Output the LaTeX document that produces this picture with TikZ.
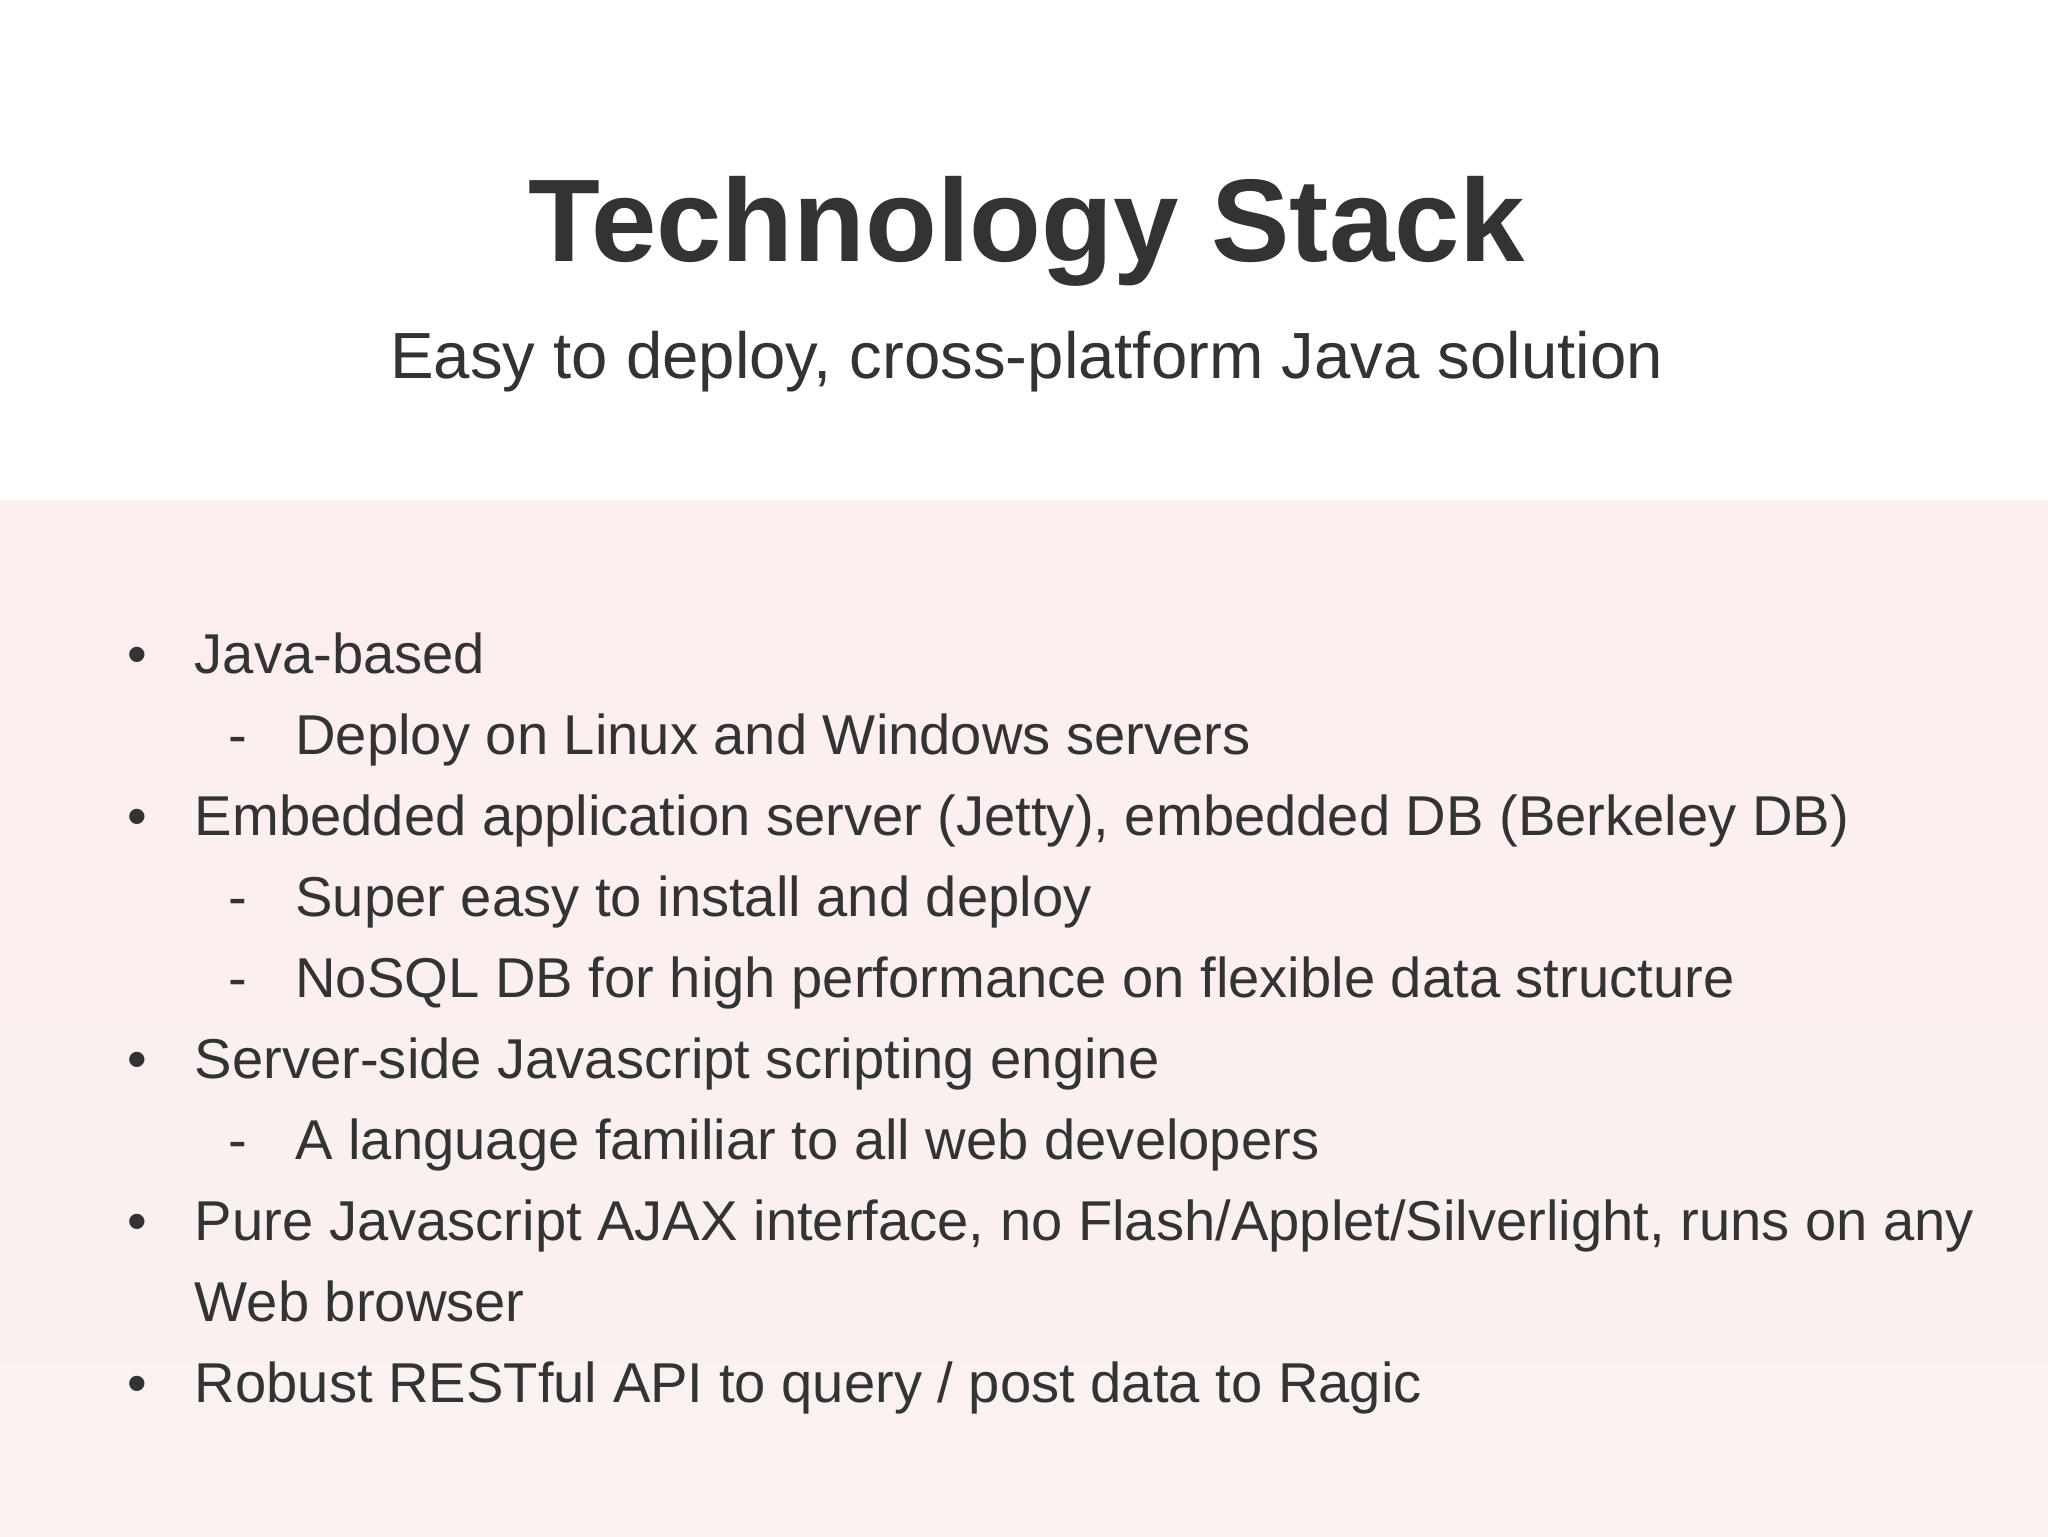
\documentclass[tikz,border=0pt]{standalone}
\usepackage{fontspec}
\setmainfont{Liberation Sans}
\definecolor{ink}{HTML}{333333}
\definecolor{pinkbg}{HTML}{FCEEEE}
\definecolor{pinkbg2}{HTML}{FAF1F1}
\begin{document}
\begin{tikzpicture}[x=1pt,y=-1pt,
  body/.style={anchor=base west,inner sep=0pt,text=ink,font=\fontsize{43}{50}\selectfont},
  bul/.style={anchor=base,inner sep=0pt,text=ink,font=\fontsize{43}{50}\selectfont}]
\useasboundingbox (0,0) rectangle (1568,1176);
\fill[white] (0,0) rectangle (1568,383);
\shade[top color=pinkbg,bottom color=pinkbg2] (0,383) rectangle (1568,1176);
\node[anchor=base,inner sep=0pt,text=ink,font=\fontsize{90}{100}\selectfont\bfseries] (title) at (786,200) {Technology Stack};
\node[anchor=base,inner sep=0pt,text=ink,font=\fontsize{50}{60}\selectfont] (sub) at (786,290) {Easy to deploy, cross-platform Java solution};
\foreach \y/\t [count=\i] in {516/Java-based, 640/{Embedded application server (Jetty), embedded DB (Berkeley DB)}, 826/Server-side Javascript scripting engine, 950/{Pure Javascript AJAX interface, no Flash/Applet/Silverlight, runs on any}, 1074/{Robust RESTful API to query / post data to Ragic}}{
  \node[bul] (b\i) at (105,\y) {•};
  \node[body] (t\i) at (149,\y) {\t};
}
\node[body] (t4b) at (149,1012) {Web browser};
\foreach \y/\t [count=\i] in {578/Deploy on Linux and Windows servers, 702/Super easy to install and deploy, 764/NoSQL DB for high performance on flexible data structure, 888/A language familiar to all web developers}{
  \node[bul] (d\i) at (182,\y) {-};
  \node[body] (s\i) at (226,\y) {\t};
}
\end{tikzpicture}
\end{document}
